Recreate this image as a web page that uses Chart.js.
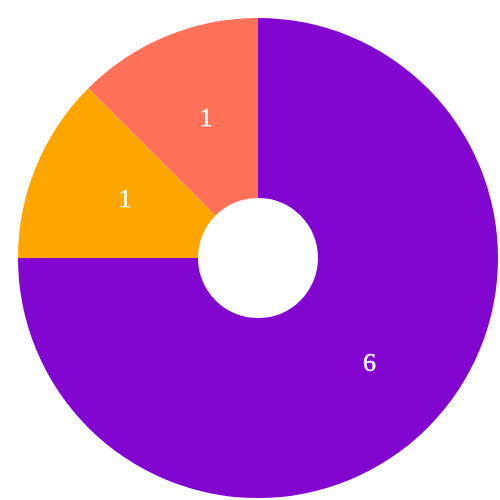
<!DOCTYPE html>
<html><head><meta charset="utf-8">
<script src="https://cdn.jsdelivr.net/npm/chart.js@4"></script>
<style>html,body{margin:0;padding:0;background:#fff}#wrap{width:500px;height:500px}</style>
</head><body><div id="wrap"><canvas id="c" width="500" height="500"></canvas></div>
<script>
const categories = ["A", "B", "C"];
const values = [6, 1, 1];
const colors = ["#8206D0", "#FFA500", "#FF7158"];

const labelPlugin = {
  id: 'sliceLabels',
  afterDatasetsDraw(chart) {
    const ctx = chart.ctx;
    const meta = chart.getDatasetMeta(0);
    ctx.save();
    ctx.fillStyle = '#ffffff';
    ctx.strokeStyle = '#ffffff';
    ctx.lineWidth = 0.5;
    ctx.font = '26px "Liberation Serif", serif';
    ctx.textAlign = 'center';
    ctx.textBaseline = 'middle';
    meta.data.forEach((arc, i) => {
      const p = arc.tooltipPosition();
      const t = String(chart.data.datasets[0].data[i]);
      ctx.fillText(t, p.x + 5.5, p.y);
      ctx.strokeText(t, p.x + 5.5, p.y);
    });
    ctx.restore();
  }
};

new Chart(document.getElementById('c'), {
  type: 'doughnut',
  data: {
    labels: categories,
    datasets: [{ data: values, backgroundColor: colors, borderWidth: 0 }]
  },
  options: {
    responsive: false,
    animation: false,
    cutout: '25%',
    layout: { padding: { left: 18, top: 18, right: 2, bottom: 2 } },
    plugins: { legend: { display: false }, tooltip: { enabled: false } }
  },
  plugins: [labelPlugin]
});
</script></body></html>
